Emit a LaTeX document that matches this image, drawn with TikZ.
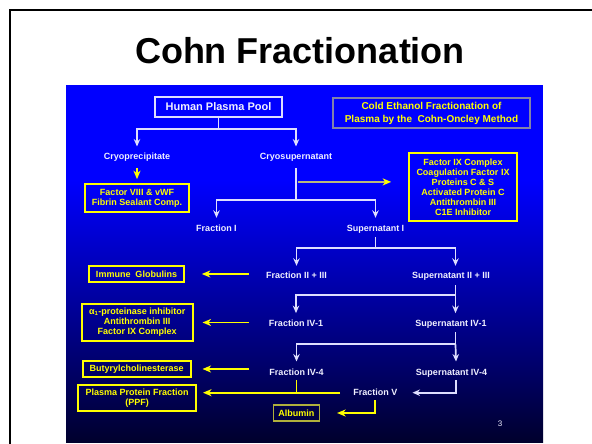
\documentclass[tikz,border=0pt]{standalone}
\usepackage{fontspec}
\setmainfont{Liberation Sans}
\usetikzlibrary{arrows.meta,calc}
\definecolor{linew}{RGB}{222,222,255}
\definecolor{wtxt}{RGB}{240,240,255}
\definecolor{yel}{RGB}{255,255,0}
\definecolor{olv}{RGB}{185,185,125}
\definecolor{gbox}{RGB}{130,130,170}
\definecolor{albb}{RGB}{175,175,60}
\definecolor{panelblue}{RGB}{0,0,255}
\definecolor{navyb}{RGB}{0,0,45}
\begin{document}
\begin{tikzpicture}[x=1pt,y=-1pt,
  lbl/.style={text=wtxt,font=\bfseries\fontsize{9}{10}\selectfont,inner sep=0pt,text height=6.5pt,text depth=1.5pt},
  ybox/.style={draw=yel,line width=1.6pt,text=yel,font=\bfseries\fontsize{9}{10}\selectfont,align=center,inner sep=0pt},
  wbox/.style={draw=linew,line width=2pt,text=wtxt,font=\bfseries\fontsize{11}{12}\selectfont,inner sep=0pt},
  gboxst/.style={draw=gbox,line width=2pt,text=yel,font=\bfseries\fontsize{10}{13}\selectfont,align=center,inner sep=0pt},
  wconn/.style={draw=linew,line width=1.7pt},
  yconn/.style={draw=yel,line width=1.9pt},
  olconn/.style={draw=olv,line width=1.9pt},
  warr/.style={-{Stealth[length=7.5pt,width=6.5pt,inset=2.5pt]}},
  yarr/.style={-{Stealth[length=8.5pt,width=7pt,inset=2.5pt,color=yel]}}
]
\useasboundingbox (0,0) rectangle (592,444);
% frame
\draw[black,line width=2pt] (9.5,444) -- (9.5,10.5) -- (592,10.5);
% panel
\fill[panelblue] (66,85) rectangle (543,181);
\shade[top color=panelblue,bottom color=navyb] (66,180) rectangle (543,442);
% title
\node[font=\bfseries\fontsize{36}{40}\selectfont,text=black,inner sep=0pt] (title) at (300,51) {Cohn Fractionation};

% nodes
\node[wbox,minimum width=127pt,minimum height=20pt] (hpp) at (218.5,107) {Human Plasma Pool};
\node[gboxst,minimum width=197pt,minimum height=29pt] (cold) at (431.5,113) {Cold Ethanol Fractionation of\\Plasma by the\ \ Cohn-Oncley Method};
\node[lbl] (cryop) at (137,156.7) {Cryoprecipitate};
\node[lbl] (cryos) at (296,156.7) {Cryosupernatant};
\node[ybox,minimum width=104pt,minimum height=28pt] (f8) at (137,198) {Factor VIII \& vWF\\Fibrin Sealant Comp.};
\node[ybox,minimum width=108pt,minimum height=68pt] (f9) at (463,187) {Factor IX Complex\\Coagulation Factor IX\\Proteins C \& S\\Activated Protein C\\Antithrombin III\\C1E Inhibitor};
\node[lbl] (fracI) at (216.5,229) {Fraction I};
\node[lbl] (supI) at (375.5,229) {Supernatant I};
\node[lbl] (fracII) at (296.5,276) {Fraction II + III};
\node[lbl] (supII) at (451,276) {Supernatant II + III};
\node[ybox,minimum width=95pt,minimum height=16pt] (immune) at (136.5,274) {Immune\ \ Globulins};
\node[ybox,minimum width=111pt,minimum height=37pt] (alpha) at (137.2,322.5) {α\textsubscript{1}-proteinase inhibitor\\Antithrombin III\\Factor IX Complex};
\node[lbl] (fracIVa) at (296,324.3) {Fraction IV-1};
\node[lbl] (supIVa) at (451,324.3) {Supernatant IV-1};
\node[lbl] (fracIVb) at (296.5,372.7) {Fraction IV-4};
\node[lbl] (supIVb) at (451.5,372.7) {Supernatant IV-4};
\node[ybox,minimum width=108pt,minimum height=16pt] (butyr) at (136.7,369) {Butyrylcholinesterase};
\node[ybox,minimum width=118pt,minimum height=26pt,font=\bfseries\fontsize{9}{10.5}\selectfont] (ppf) at (137.2,398) {Plasma Protein Fraction\\(PPF)};
\node[lbl] (fracV) at (375.3,392.7) {Fraction V};
\node[ybox,draw=albb,minimum width=46pt,minimum height=16pt] (alb) at (296.3,413) {Albumin};
\node[text=wtxt,font=\fontsize{8}{9}\selectfont,inner sep=0pt] (pnum) at (500,423.3) {3};

% connectors
\draw[wconn] (hpp.south) -- ++(0,10.7) coordinate (fa);
\draw[wconn,warr] (fa) -| ([yshift=6pt]cryop.north);
\draw[wconn,warr] (fa) -| ([yshift=6pt]cryos.north);
\draw[yconn,yarr] ([yshift=-7pt]cryop.south) -- ([yshift=4pt]f8.north);

\draw[wconn] ([yshift=-7pt]cryos.south) -- ++(0,32) coordinate (fb);
\draw[wconn,warr] (fb) -| ([yshift=7pt]fracI.north);
\draw[wconn,warr] (fb) -| ([yshift=7pt]supI.north);
\coordinate (ja) at ([xshift=1.5pt,yshift=-21pt]cryos.south);
\draw[olconn,yarr,shorten >=17pt] (ja) -- (ja -| f9.west);

\draw[wconn] ([yshift=-4pt]supI.south) -- ++(0,11) coordinate (fc);
\draw[wconn,warr] (fc) -| ([yshift=6pt]fracII.north);
\draw[wconn,warr] (fc) -| ([xshift=4.5pt,yshift=6pt]supII.north);
\draw[yconn,yarr,shorten <=17pt,shorten >=17pt] (immune.east -| fracII.west) -- (immune.east);

\draw[wconn,warr] ([xshift=4.5pt,yshift=-5pt]supII.south) -- ([xshift=4.5pt,yshift=7pt]supIVa.north);
\coordinate (jb) at ([xshift=4.5pt,yshift=-15pt]supII.south);
\draw[wconn,warr] (jb) -| ([yshift=7pt]fracIVa.north);
\draw[yconn,yarr,shorten <=20pt,shorten >=9pt] (alpha.east -| fracIVa.west) -- (alpha.east);

\draw[wconn] ([xshift=4.5pt,yshift=-3.5pt]supIVa.south) -- ++(0,12.3) coordinate (fd);
\draw[wconn,warr] (fd) -- ([xshift=4.5pt,yshift=7pt]supIVb.north);
\draw[wconn,warr] (fd) -| ([yshift=7pt]fracIVb.north);
\draw[yconn,yarr,shorten <=20pt,shorten >=11pt] (butyr.east -| fracIVb.west) -- (butyr.east);

\draw[wconn,warr] ([xshift=4.5pt,yshift=-3.5pt]supIVb.south) |- ([xshift=15pt]fracV.east);
\draw[yconn,yarr,shorten <=13pt,shorten >=6pt] (fracV.west) -- (fracV.west -| ppf.east);
\draw[yconn] ([yshift=-3.5pt]fracIVb.south) -- (fracIVb.south |- fracV.west);
\draw[yconn,yarr] ([yshift=-3.5pt]fracV.south) |- ([xshift=17pt]alb.east);
\end{tikzpicture}
\end{document}
